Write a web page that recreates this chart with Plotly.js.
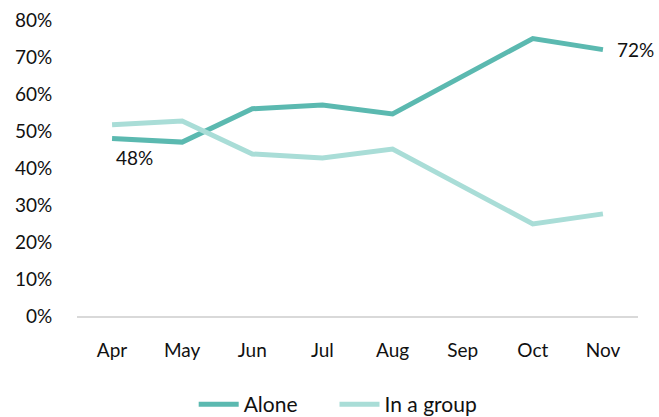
<!DOCTYPE html>
<html>
<head>
<meta charset="utf-8">
<script src="https://cdn.plot.ly/plotly-3.0.1.min.js"></script>
<style>html,body{margin:0;padding:0;background:#fff;}#chart{width:659px;height:417px;}</style>
</head>
<body>
<div id="chart"></div>
<script>
const months = ["Apr","May","Jun","Jul","Aug","Sep","Oct","Nov"];
const alone = [48, 47, 56, 57, 54.6, 64.7, 75, 72];
const inGroup = [51.7, 52.7, 43.8, 42.7, 45.1, 34.9, 24.9, 27.6];
const yTicks = [0,10,20,30,40,50,60,70,80];
const yTickText = yTicks.map(v => v + "%");

const FONT = "Lato, 'Open Sans', sans-serif";

const traces = [
  {x: months, y: alone, name: "Alone", type: "scatter", mode: "lines",
   legend: "legend", line: {color: "#5bb9b0", width: 5}},
  {x: months, y: inGroup, name: "In a group", type: "scatter", mode: "lines",
   legend: "legend2", line: {color: "#a9ddd7", width: 5}}
];

const legendBase = {orientation: "h", xanchor: "left", xref: "paper",
  y: 0.03, yref: "container", yanchor: "middle",
  font: {size: 21, color: "#111"}, itemwidth: 40, bgcolor: "rgba(0,0,0,0)"};

const layout = {
  width: 659, height: 417,
  margin: {l: 77, r: 21, t: 20, b: 101},
  paper_bgcolor: "#fff", plot_bgcolor: "#fff",
  font: {family: FONT, size: 19, color: "#111"},
  showlegend: true,
  legend: Object.assign({}, legendBase, {x: 0.208}),
  legend2: Object.assign({}, legendBase, {x: 0.459}),
  xaxis: {type: "category", range: [-0.5, 7.5], automargin: false,
          showgrid: false, zeroline: false,
          showline: true, linecolor: "#d9d9d9", linewidth: 1.5,
          ticks: "outside", ticklen: 17, tickcolor: "rgba(0,0,0,0)",
          tickfont: {size: 19, color: "#111"}},
  yaxis: {range: [0, 80], automargin: false, showgrid: false, zeroline: false, showline: false,
          tickvals: yTicks, ticktext: yTickText,
          ticks: "outside", ticklen: 20, tickcolor: "rgba(0,0,0,0)",
          tickfont: {size: 19, color: "#111"}},
  annotations: [
    {x: months[0], y: alone[0], xref: "x", yref: "y", text: alone[0] + "%",
     showarrow: false, xanchor: "center", yanchor: "top", xshift: 22, yshift: -6,
     font: {size: 19, color: "#111"}},
    {x: months[7], y: alone[7], xref: "x", yref: "y", text: alone[7] + "%",
     showarrow: false, xanchor: "left", yanchor: "middle", xshift: 12, yshift: 0,
     font: {size: 19, color: "#111"}}
  ]
};

Plotly.newPlot("chart", traces, layout, {displayModeBar: false, staticPlot: true});
</script>
</body>
</html>
